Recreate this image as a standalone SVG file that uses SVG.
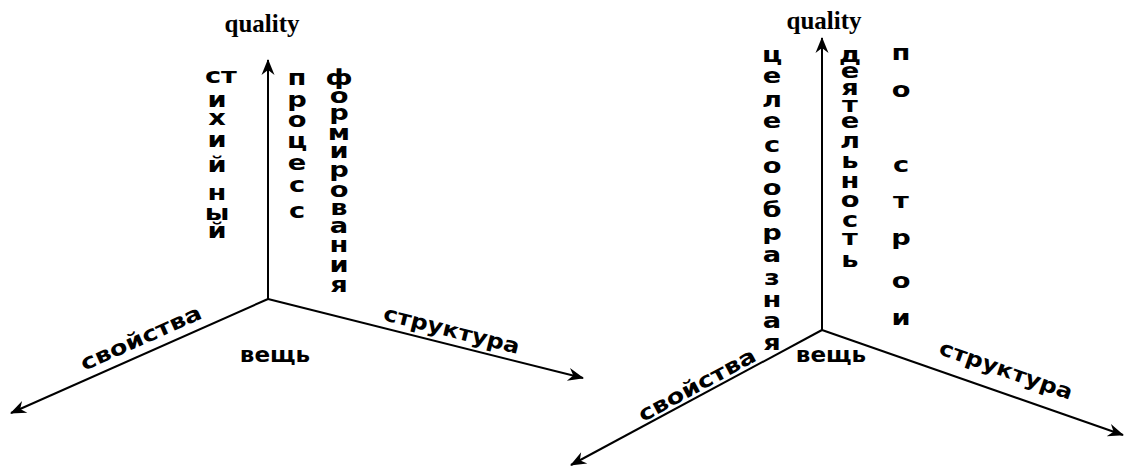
<svg xmlns="http://www.w3.org/2000/svg" width="1131" height="468" viewBox="0 0 1131 468">
  <style>
    .axis { stroke: #000; stroke-width: 2; fill: none; marker-end: url(#tip); }
    .lbl { font-family: "DejaVu Sans", "Liberation Sans", sans-serif; font-weight: bold; font-size: 21px; fill: #000; text-anchor: middle; }
    .q { font-family: "Liberation Serif", "Times New Roman", serif; font-weight: bold; font-size: 25px; fill: #000; text-anchor: middle; }
  </style>
  <defs>
    <marker id="tip" markerUnits="userSpaceOnUse" viewBox="-16 -8 18 16" refX="0" refY="0" markerWidth="18" markerHeight="16" orient="auto">
      <path d="M1,0 L-15,-6.5 L-10,0 L-15,6.5 Z" fill="#000"/>
    </marker>
  </defs>
  <rect width="1131" height="468" fill="#fff"/>

  <!-- axes -->
  <g id="connectors">
    <line class="axis" x1="268" y1="299" x2="268" y2="60"/>
    <line class="axis" x1="268" y1="299" x2="11" y2="413"/>
    <line class="axis" x1="268" y1="299" x2="583" y2="378"/>
    <line class="axis" x1="822" y1="330" x2="822" y2="38"/>
    <line class="axis" x1="822" y1="330" x2="571" y2="465"/>
    <line class="axis" x1="822" y1="330" x2="1123" y2="435"/>
  </g>

  <!-- left figure -->
  <g id="quality-left"><text class="q" x="262" y="32">quality</text></g>
  <g id="thing-left"><text class="lbl" transform="translate(275,362) scale(1.1,1)" x="0" y="0">вещь</text></g>
  <g id="properties-left"><text class="lbl" transform="translate(141,338) rotate(-24) scale(1.22,1)" x="0" y="7">свойства</text></g>
  <g id="structure-left"><text class="lbl" transform="translate(451,333) rotate(14.2) scale(1.14,1)" x="0" y="4">структура</text></g>
  <g id="spontaneous">
    <text class="lbl" transform="translate(217,0) scale(1.3,1)">
      <tspan x="3" y="83">ст</tspan><tspan x="0" y="107">и</tspan><tspan x="0" y="125">х</tspan><tspan x="0" y="147">и</tspan><tspan x="0" y="172">й</tspan><tspan x="0" y="200">н</tspan><tspan x="0" y="220">ы</tspan><tspan x="0" y="238">й</tspan>
    </text>
  </g>
  <g id="process">
    <text class="lbl" transform="translate(297,0) scale(1.3,1)">
      <tspan x="0" y="85">п</tspan><tspan x="0" y="107">р</tspan><tspan x="0" y="127">о</tspan><tspan x="0" y="148">ц</tspan><tspan x="0" y="170">е</tspan><tspan x="0" y="192">с</tspan><tspan x="0" y="218">с</tspan>
    </text>
  </g>
  <g id="formation">
    <text class="lbl" transform="translate(339,0) scale(1.3,1)">
      <tspan x="0" y="85">ф</tspan><tspan x="0" y="103">о</tspan><tspan x="0" y="120">р</tspan><tspan x="0" y="140">м</tspan><tspan x="0" y="158">и</tspan><tspan x="0" y="177">р</tspan><tspan x="0" y="197">о</tspan><tspan x="0" y="215">в</tspan><tspan x="0" y="233">а</tspan><tspan x="0" y="252">н</tspan><tspan x="0" y="272">и</tspan><tspan x="0" y="292">я</tspan>
    </text>
  </g>

  <!-- right figure -->
  <g id="quality-right"><text class="q" x="824" y="29">quality</text></g>
  <g id="thing-right"><text class="lbl" transform="translate(831,362) scale(1.1,1)" x="0" y="0">вещь</text></g>
  <g id="properties-right"><text class="lbl" transform="translate(697,385) rotate(-28.4) scale(1.22,1)" x="0" y="7">свойства</text></g>
  <g id="structure-right"><text class="lbl" transform="translate(1005,373) rotate(19.3) scale(1.14,1)" x="0" y="4">структура</text></g>
  <g id="purposeful">
    <text class="lbl" transform="translate(772,0) scale(1.3,1)">
      <tspan x="0" y="62">ц</tspan><tspan x="0" y="83">е</tspan><tspan x="0" y="107">л</tspan><tspan x="0" y="128">е</tspan><tspan x="0" y="152">с</tspan><tspan x="0" y="173">о</tspan><tspan x="0" y="195">о</tspan><tspan x="0" y="217">б</tspan><tspan x="0" y="240">р</tspan><tspan x="0" y="262">а</tspan><tspan x="0" y="285">з</tspan><tspan x="0" y="307">н</tspan><tspan x="0" y="328">а</tspan><tspan x="0" y="350">я</tspan>
    </text>
  </g>
  <g id="activity">
    <text class="lbl" transform="translate(850,0) scale(1.3,1)">
      <tspan x="0" y="62">д</tspan><tspan x="0" y="78">е</tspan><tspan x="0" y="95">я</tspan><tspan x="0" y="112">т</tspan><tspan x="0" y="128">е</tspan><tspan x="0" y="148">л</tspan><tspan x="0" y="168">ь</tspan><tspan x="0" y="188">н</tspan><tspan x="0" y="207">о</tspan><tspan x="0" y="227">с</tspan><tspan x="0" y="245">т</tspan><tspan x="0" y="267">ь</tspan>
    </text>
  </g>
  <g id="build">
    <text class="lbl" transform="translate(901,0) scale(1.3,1)">
      <tspan x="0" y="60">п</tspan><tspan x="0" y="97">о</tspan><tspan x="0" y="172">с</tspan><tspan x="0" y="208">т</tspan><tspan x="0" y="245">р</tspan><tspan x="0" y="288">о</tspan><tspan x="0" y="325">и</tspan>
    </text>
  </g>
</svg>
